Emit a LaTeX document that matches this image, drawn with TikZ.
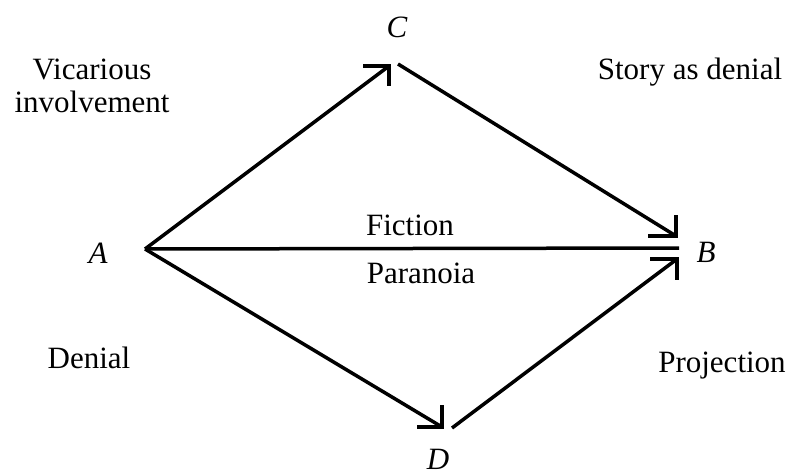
\documentclass[tikz,border=0pt]{standalone}
\usepackage{fontspec}
\setmainfont{Liberation Serif}
\begin{document}
\begin{tikzpicture}[x=1pt,y=-1pt,
  lbl/.style={anchor=base,inner sep=0pt,font=\fontsize{31}{33}\selectfont},
  vtx/.style={anchor=base,inner sep=0pt,font=\fontsize{31}{33}\selectfont\itshape},
  conn/.style={line width=3.5pt,line cap=butt},
  barb/.style={line width=3.5pt,line join=miter,line cap=butt}]
\useasboundingbox (0,0) rectangle (792,476);
% vertex labels
\node[vtx] (A) at (98,263) {A};
\node[vtx] (B) at (706,262) {B};
\node[vtx] (C) at (397,38) {C};
\node[vtx] (D) at (438,469) {D};
% tip coordinates
\coordinate (pA) at (145,249);
\coordinate (pC) at (389,66);
\coordinate (pCs) at (398,64);
\coordinate (pBu) at (676,236);
\coordinate (pBm) at (679,248);
\coordinate (pBl) at (677,259);
\coordinate (pD) at (442,427);
\coordinate (pDs) at (452,428);
% connectors
\draw[conn] (pA) -- (pC);
\draw[barb] ([xshift=-26pt]pC) -- (pC) -- ([yshift=-20pt]pC);
\draw[conn] (pCs) -- (pBu);
\draw[barb] ([xshift=-28pt]pBu) -- (pBu) -- ([yshift=21pt]pBu);
\draw[conn] (pA) -- (pBm);
\draw[conn] (pA) -- (pD);
\draw[barb] ([xshift=-25pt]pD) -- (pD) -- ([yshift=22pt]pD);
\draw[conn] (pDs) -- (pBl);
\draw[barb] ([xshift=-27pt]pBl) -- (pBl) -- ([yshift=-21pt]pBl);
% region labels
\node[lbl] (vic) at (92,80) {Vicarious};
\node[lbl] (inv) at (92,113) {involvement};
\node[lbl] (sad) at (690,80) {Story as denial};
\node[lbl] (fic) at (410,235) {Fiction};
\node[lbl] (par) at (421,283) {Paranoia};
\node[lbl] (den) at (89,368) {Denial};
\node[lbl] (pro) at (722,372) {Projection};
\end{tikzpicture}
\end{document}
